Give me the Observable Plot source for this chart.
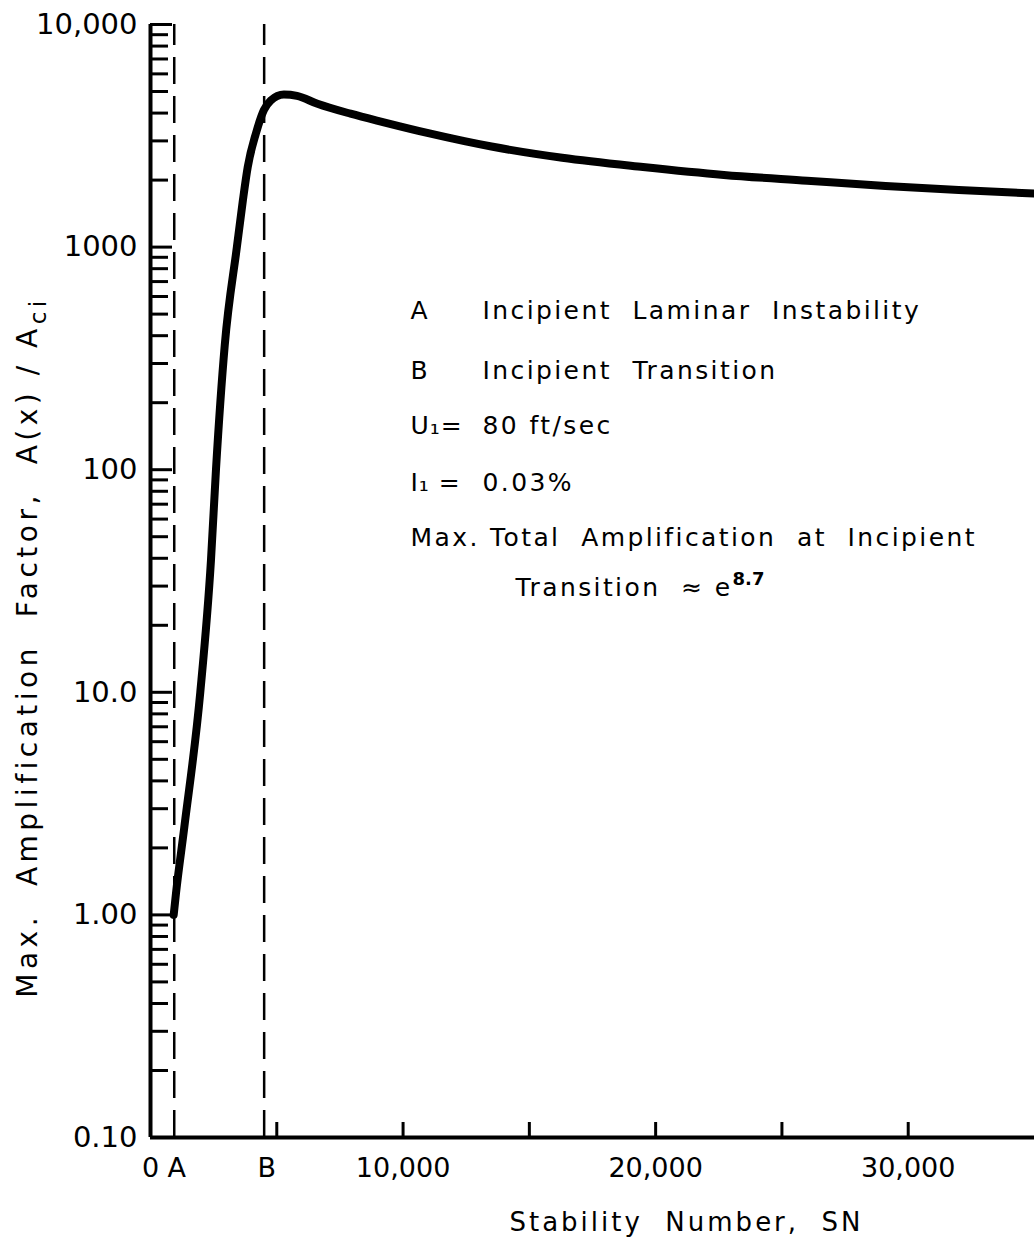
<!DOCTYPE html>
<html>
<head>
<meta charset="utf-8">
<script src="https://cdn.jsdelivr.net/npm/d3@7"></script>
<script src="https://cdn.jsdelivr.net/npm/@observablehq/plot@0.6"></script>
<style>
  html, body { margin: 0; padding: 0; background: #fff; }
  #chart svg { display: block; }
</style>
</head>
<body>
<div id="chart"></div>
<script>
// ---- data ----
const stabilityNumber = [918, 1009, 1337, 1971, 2394, 2592, 2940, 3420, 3660, 3850, 4170, 4490, 4760, 5280, 5800, 6610, 7920, 9240, 11000, 13500, 16300, 19500, 22700, 26000, 29100, 32000, 35000];
const amplification   = [1.0, 1.25, 2.47, 10, 39.2, 100, 363, 1000, 1630, 2290, 3230, 4130, 4560, 4850, 4780, 4405, 3974, 3636, 3250, 2830, 2520, 2290, 2110, 1987, 1880, 1803, 1742];

const markerValues = [940, 4500];          // A, B
const markerLetters = ["A", "B"];

const yMajorTicks = [0.1, 1, 10, 100, 1000, 10000];
const yTickLabels = ["0.10", "1.00", "10.0", "100", "1000", "10,000"];
const xLabelTicks = [0, 10000, 20000, 30000];
const xTickLabels = ["0", "10,000", "20,000", "30,000"];
const xMarkTicks  = [5000, 10000, 15000, 20000, 25000, 30000];

const xTitle = "Stability  Number,  SN";
const yTitle = "Max.  Amplification  Factor,  A(x) / A";
const yTitleSub = "ci";

const noteKeys  = ["A", "B", "U\u2081=", "I\u2081 ="];
const noteTexts = ["Incipient  Laminar  Instability", "Incipient  Transition", "80 ft/sec", "0.03%"];
const noteLong1 = "Max. Total  Amplification  at  Incipient";
const noteLong2 = "Transition  \u2248 e";
const noteSup   = "8.7";

// ---- derived ----
const yMinorTicks = [];
for (const d of [0.1, 1, 10, 100, 1000]) for (let k = 2; k <= 9; k++) yMinorTicks.push(+(d * k).toPrecision(3));
const curve = stabilityNumber.map((sn, i) => ({sn, amp: amplification[i]}));

const FONT = "DejaVu Sans";
const mL = 150, mT = 24;

function note(text, left, top, size = 25) {
  return Plot.text([text], {
    text: d => d, frameAnchor: "top-left", dx: left - mL, dy: top - mT,
    textAnchor: "start", lineAnchor: "middle", fontSize: size
  });
}

const chart = Plot.plot({
  width: 1034,
  height: 1241,
  marginLeft: mL,
  marginRight: 0,
  marginTop: mT,
  marginBottom: 104,
  style: {fontFamily: FONT, fontSize: "27px", color: "#000", background: "#fff", overflow: "visible"},
  x: {domain: [0, 35000]},
  y: {type: "log", domain: [0.1, 10000]},
  marks: [
    // dashed verticals at A and B
    Plot.ruleX(markerValues, {y1: 0.1, y2: 10000, stroke: "#000", strokeWidth: 2.5, strokeDasharray: "27,12"}),
    // inward y ticks
    Plot.axisY({ticks: yMinorTicks, tickSize: -18, strokeWidth: 3, text: null, label: null}),
    Plot.axisY({ticks: yMajorTicks, tickSize: -22, strokeWidth: 3, text: null, label: null}),
    Plot.axisY({ticks: yMajorTicks, tickSize: 0, tickPadding: 13, fontSize: 29,
      tickFormat: d => yTickLabels[yMajorTicks.indexOf(d)], label: null}),
    // inward x ticks
    Plot.axisX({ticks: xMarkTicks, tickSize: -15, strokeWidth: 3, text: null, label: null}),
    Plot.axisX({ticks: xLabelTicks, tickSize: 0, tickPadding: 20, fontSize: 27,
      tickFormat: d => xTickLabels[xLabelTicks.indexOf(d)], label: null}),
    Plot.text(markerValues, {x: d => d, text: (d, i) => markerLetters[i], frameAnchor: "bottom",
      lineAnchor: "top", dy: 20, dx: 3, fontSize: 27}),
    // frame lines
    Plot.ruleX([0], {stroke: "#000", strokeWidth: 4}),
    Plot.ruleY([0.1], {stroke: "#000", strokeWidth: 4}),
    // the curve
    Plot.line(curve, {x: "sn", y: "amp", stroke: "#000", strokeWidth: 8, curve: "monotone-x"}),
    // axis titles
    Plot.text([xTitle], {text: d => d, frameAnchor: "bottom", lineAnchor: "bottom",
      dx: 94, dy: 93, fontSize: 26}),
    Plot.text([yTitle], {text: d => d, frameAnchor: "left", rotate: -90, textAnchor: "middle",
      lineAnchor: "middle", dx: -122, dy: 66, fontSize: 28}),
    // annotation block
    ...noteKeys.map((k, i) => note(k, 410, [310, 370, 425, 482][i])),
    ...noteTexts.map((t, i) => note(t, 482, [310, 370, 425, 482][i])),
    note(noteLong1, 410, 537),
    note(noteLong2, 515, 587)
  ]
});

const svg = d3.select(chart.tagName.toLowerCase() === "svg" ? chart : chart.querySelector("svg"));
const byText = s => svg.selectAll("text").filter(function () { return this.textContent === s; });
[...noteTexts, noteLong1, noteLong2].forEach(s => byText(s).style("letter-spacing", "2.4px").style("white-space", "pre"));
noteKeys.forEach(s => byText(s).style("letter-spacing", "1px").style("white-space", "pre"));
byText(xTitle).style("letter-spacing", "3px").style("white-space", "pre");
byText(yTitle).style("letter-spacing", "4.5px").style("white-space", "pre")
  .append("tspan").attr("dy", "0.35em").attr("font-size", "23").text(yTitleSub);
byText(noteLong2).append("tspan")
  .attr("dy", "-0.6em").attr("font-size", "18").attr("font-weight", "bold")
  .style("letter-spacing", "0px").text(noteSup);

document.getElementById("chart").appendChild(chart);
</script>
</body>
</html>
